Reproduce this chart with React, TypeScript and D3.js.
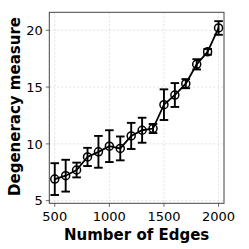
import React from "react";
import * as d3 from "d3";

const edges = [500, 600, 700, 800, 900, 1000, 1100, 1200, 1300, 1400, 1500, 1600, 1700, 1800, 1900, 2000];
const means = [6.9, 7.2, 7.7, 8.85, 9.3, 9.8, 9.6, 10.7, 11.2, 11.35, 13.45, 14.3, 15.3, 17.0, 18.1, 20.2];
const errs = [1.4, 1.4, 0.65, 0.8, 1.4, 1.4, 1.05, 1.15, 1.1, 0.4, 1.35, 1.05, 0.4, 0.45, 0.25, 0.6];
const xTicks = [500, 1000, 1500, 2000];
const yTicks = [5, 10, 15, 20];

export default function App() {
  const W = 249, H = 249;
  const left = 49.3, right = 224, top = 12.3, bottom = 203.3;
  const x = d3.scaleLinear().domain([450, 2050]).range([left, right]);
  const y = d3.scaleLinear().domain([4.77, 21.58]).range([bottom, top]);
  const line = d3.line<number>().x((_, i) => x(edges[i])).y((d) => y(d));
  const font = "DejaVu Sans, sans-serif";
  return (
    <svg width={W} height={H} style={{ position: "absolute", left: 0, top: 0 }}>
      <rect width={W} height={H} fill="#fff" />
      {xTicks.map((t) => (
        <line key={"gx" + t} x1={x(t)} x2={x(t)} y1={top} y2={bottom} stroke="#ccc" strokeDasharray="2,2" strokeWidth={0.6} />
      ))}
      {yTicks.map((t) => (
        <line key={"gy" + t} x1={left} x2={right} y1={y(t)} y2={y(t)} stroke="#ccc" strokeDasharray="2,2" strokeWidth={0.6} />
      ))}
      {edges.map((e, i) => (
        <g key={"eb" + e} stroke="#000" strokeWidth={1.9}>
          <line x1={x(e)} x2={x(e)} y1={y(means[i] - errs[i])} y2={y(means[i] + errs[i])} />
          <line x1={x(e) - 4.3} x2={x(e) + 4.3} y1={y(means[i] - errs[i])} y2={y(means[i] - errs[i])} />
          <line x1={x(e) - 4.3} x2={x(e) + 4.3} y1={y(means[i] + errs[i])} y2={y(means[i] + errs[i])} />
        </g>
      ))}
      <path d={line(means) || ""} fill="none" stroke="#000" strokeWidth={1.8} />
      {edges.map((e, i) => (
        <circle key={"c" + e} cx={x(e)} cy={y(means[i])} r={4} fill="none" stroke="#000" strokeWidth={1.5} />
      ))}
      <rect x={left} y={top} width={right - left} height={bottom - top} fill="none" stroke="#444" strokeWidth={1} />
      {xTicks.map((t) => (
        <g key={"xt" + t}>
          <line x1={x(t)} x2={x(t)} y1={bottom} y2={bottom + 3.5} stroke="#444" strokeWidth={0.8} />
          <text x={x(t)} y={bottom + 17.5} textAnchor="middle" fontFamily={font} fontSize={13} fill="#000">{t}</text>
        </g>
      ))}
      {yTicks.map((t) => (
        <g key={"yt" + t}>
          <line x1={left - 3.5} x2={left} y1={y(t)} y2={y(t)} stroke="#444" strokeWidth={0.8} />
          <text x={left - 6.5} y={y(t) + 4.7} textAnchor="end" fontFamily={font} fontSize={13} fill="#000">{t}</text>
        </g>
      ))}
      <text x={(left + right) / 2} y={239.5} textAnchor="middle" fontFamily={font} fontSize={15} fontWeight="bold" fill="#000">Number of Edges</text>
      <text transform={`translate(19.5,106.5) rotate(-90)`} textAnchor="middle" fontFamily={font} fontSize={15} fontWeight="bold" fill="#000">Degeneracy measure</text>
    </svg>
  );
}
